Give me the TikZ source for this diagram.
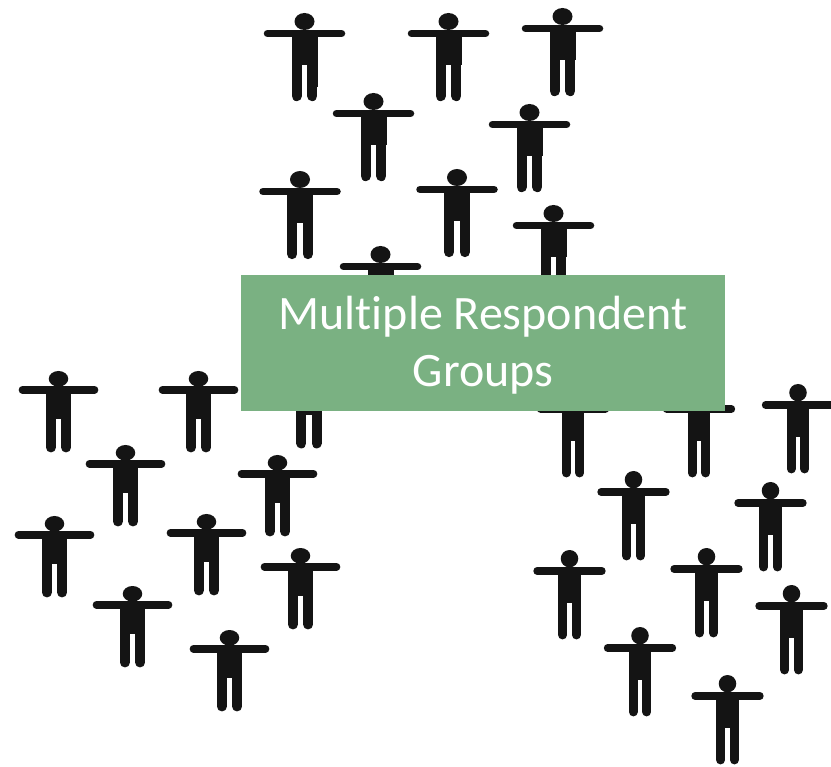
\documentclass[tikz,border=0pt]{standalone}
\usepackage{fontspec}
\setmainfont[Ligatures=NoCommon]{Carlito}
\definecolor{groupgreen}{HTML}{7AB182}
\definecolor{figureblack}{HTML}{141414}
\def\respondent(#1,#2)(#3,#4){
	\begin{scope}[shift={(#1,#2)},xscale=#3/81,yscale=#4/88]
		\fill[figureblack] (0, 8.5) ellipse (10 and 8.5);
		\draw[figureblack, line width=7.5pt, line cap=round] (-37, 20.5) -- (37, 20.5);
		\fill[figureblack] (-13, 20) rectangle (13, 52);
		\draw[figureblack, line width=#3*0.128pt, line cap=round] (-7.8, 48) -- (-7.8, 83);
		\draw[figureblack, line width=#3*0.128pt, line cap=round] (7.8, 48) -- (7.8, 83);
	\end{scope}
}

\begin{document}
\begin{tikzpicture}[x=1pt, y=-1pt]
	\useasboundingbox (0, 0) rectangle (831, 767);

	%%%%% TOP GROUP %%%%%
	\respondent(304.5, 13)(81, 88);
	\fill[figureblack] (312, 65) rectangle (318, 87);
	\respondent(448.5, 13)(81, 88);
	\respondent(562.5, 8)(81, 88);
	\respondent(373.5, 93)(81, 88);
	\respondent(529.5, 104)(81, 88);
	\respondent(300, 171)(81, 88);
	\respondent(457, 169)(81, 88);
	\respondent(553.5, 205)(81, 88);
	\respondent(380.5, 246)(81, 88);

	%%%%% LEFT GROUP %%%%%
	\respondent(58.5, 371)(79, 81);
	\fill[figureblack] (64, 420) rectangle (70.7, 440);
	\respondent(198.5, 371)(79, 81);
	\respondent(309, 367)(79, 81);
	\respondent(125.5, 445)(79, 81);
	\respondent(277.5, 455)(79, 81);
	\respondent(54.5, 516)(79, 81);
	\respondent(206.5, 514)(79, 81);
	\respondent(300.5, 548)(79, 81);
	\respondent(132.5, 586)(79, 81);
	\respondent(229.5, 630)(79, 81);

	%%%%% RIGHT GROUP %%%%%
	\respondent(573, 388)(71, 90);
	\fill[figureblack] (578, 440) rectangle (584.3, 464);
	\respondent(699, 388)(71, 90);
	\respondent(798, 384)(71, 90);
	\respondent(633.5, 471)(71, 90);
	\respondent(770.5, 482)(71, 90);
	\respondent(569.5, 550)(71, 90);
	\respondent(706.5, 548)(71, 90);
	\respondent(791.5, 585)(71, 90);
	\respondent(640, 627)(71, 90);
	\respondent(727.5, 675)(71, 90);

	%%%%% LABEL %%%%%
	\fill[groupgreen] (241, 275) rectangle (725, 411);
	\node[text=white, align=center, font=\fontsize{48}{57}\selectfont] (label) at (483, 345) {Multiple Respondent\\Groups};
\end{tikzpicture}
\end{document}
